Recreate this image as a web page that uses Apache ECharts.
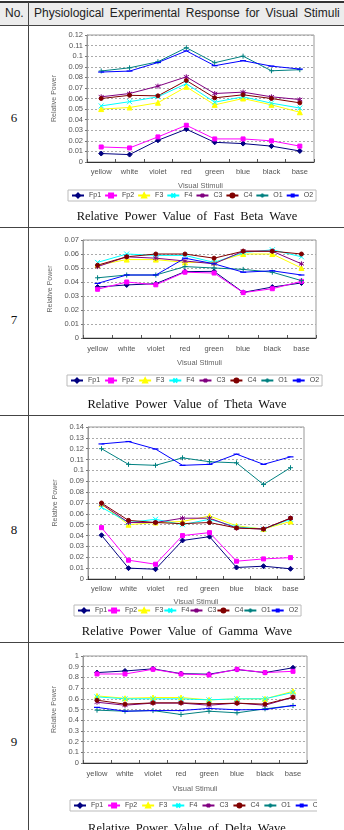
<!DOCTYPE html>
<html>
<head>
<meta charset="utf-8">
<script src="https://cdn.jsdelivr.net/npm/echarts@6/dist/echarts.min.js"></script>
<style>
    body {
        width: 344px;
        height: 830px;
        margin: 0;
        position: relative;
        overflow: hidden;
        background: #fff;
        font-family: 'Liberation Sans', Arial, sans-serif;
        color: #222;
    }
    .line { position: absolute; background: #444; }
    .header-bg { position: absolute; left: 0; top: 2px; width: 344px; height: 23px; background: #ececec; }
    .head { position: absolute; top: 6px; font-size: 12px; line-height: 15px; color: #222; white-space: nowrap; }
    .rownum { position: absolute; left: 0; width: 28px; text-align: center; font-family: 'Liberation Serif', 'DejaVu Serif', serif; font-size: 13px; color: #111; }
    .clip { position: absolute; left: 30px; overflow: hidden; }
    .chart { width: 314px; }
    .caption {
        position: absolute; left: 30px; width: 314px; text-align: center; white-space: nowrap;
        font-family: 'Liberation Serif', 'DejaVu Serif', serif; font-size: 12.5px; word-spacing: 3px; color: #111;
    }
</style>
</head>
<body>
<div class="header-bg"></div>
<div class="line" style="left:0;top:1px;width:344px;height:2px;background:#333"></div>
<div class="line" style="left:0;top:25px;width:344px;height:1px"></div>
<div class="line" style="left:28px;top:2px;width:1px;height:830px"></div>
<div class="line" style="left:0;top:227px;width:344px;height:1px"></div>
<div class="line" style="left:0;top:415px;width:344px;height:1px"></div>
<div class="line" style="left:0;top:642px;width:344px;height:1px"></div>

<div class="head" style="left:5px">No.</div>
<div class="head" style="left:34px;word-spacing:2.5px">Physiological Experimental Response for Visual Stimuli</div>

<div class="rownum" style="top:110px">6</div>
<div class="rownum" style="top:312px">7</div>
<div class="rownum" style="top:522px">8</div>
<div class="rownum" style="top:734px">9</div>

<div class="clip" style="top:26px;width:314px;height:200px"><div id="c1" class="chart" style="height:200px"></div></div>
<div class="clip" style="top:228px;width:314px;height:187px"><div id="c2" class="chart" style="height:187px"></div></div>
<div class="clip" style="top:416px;width:277px;height:226px"><div id="c3" class="chart" style="height:226px"></div></div>
<div class="clip" style="top:643px;width:287px;height:187px"><div id="c4" class="chart" style="height:187px"></div></div>

<div class="caption" style="top:209px">Relative Power Value of Fast Beta Wave</div>
<div class="caption" style="top:397px">Relative Power Value of Theta Wave</div>
<div class="caption" style="top:624px">Relative Power Value of Gamma Wave</div>
<div class="caption" style="top:821px">Relative Power Value of Delta Wave</div>

<script type="text/javascript">
// visual stimuli on the x axis
var stimuli = ['yellow', 'white', 'violet', 'red', 'green', 'blue', 'black', 'base'];
// electrode channels, one line each
var channels = ['Fp1', 'Fp2', 'F3', 'F4', 'C3', 'C4', 'O1', 'O2'];
var colors = ['#000080', '#ff00ff', '#ffff00', '#00ffff', '#800080', '#800000', '#008080', '#0000ff'];

// values per channel (same order as channels)
var fastBeta = [
    [0.008, 0.007, 0.0205, 0.031, 0.0186, 0.0174, 0.015, 0.0104],
    [0.0142, 0.0133, 0.0237, 0.0347, 0.0218, 0.0218, 0.020, 0.015],
    [0.050, 0.0515, 0.056, 0.071, 0.054, 0.060, 0.054, 0.047],
    [0.053, 0.057, 0.0616, 0.074, 0.0565, 0.0616, 0.0556, 0.051],
    [0.0616, 0.0647, 0.0717, 0.0805, 0.0647, 0.066, 0.0616, 0.059],
    [0.060, 0.063, 0.0625, 0.077, 0.0606, 0.0635, 0.060, 0.0559],
    [0.086, 0.089, 0.0947, 0.108, 0.0938, 0.100, 0.0862, 0.0872],
    [0.085, 0.0859, 0.094, 0.105, 0.091, 0.0957, 0.0906, 0.0878]
];
var theta = [
    [0.0364, 0.0379, 0.0388, 0.0474, 0.0476, 0.0326, 0.0364, 0.0393],
    [0.0348, 0.0400, 0.0380, 0.0470, 0.0464, 0.0324, 0.0352, 0.0405],
    [0.052, 0.056, 0.056, 0.054, 0.054, 0.060, 0.060, 0.050],
    [0.054, 0.060, 0.059, 0.059, 0.054, 0.061, 0.063, 0.058],
    [0.051, 0.058, 0.057, 0.055, 0.053, 0.062, 0.062, 0.053],
    [0.052, 0.058, 0.060, 0.060, 0.057, 0.062, 0.062, 0.060],
    [0.043, 0.045, 0.045, 0.051, 0.050, 0.049, 0.047, 0.041],
    [0.039, 0.045, 0.045, 0.057, 0.053, 0.047, 0.048, 0.045]
];
var gamma = [
    [0.0403, 0.010, 0.009, 0.0355, 0.039, 0.0106, 0.0118, 0.0094],
    [0.0473, 0.0173, 0.0136, 0.040, 0.0427, 0.0164, 0.0185, 0.0197],
    [0.069, 0.050, 0.052, 0.053, 0.058, 0.049, 0.046, 0.053],
    [0.066, 0.052, 0.055, 0.050, 0.055, 0.048, 0.046, 0.055],
    [0.069, 0.052, 0.052, 0.056, 0.056, 0.047, 0.046, 0.056],
    [0.070, 0.054, 0.052, 0.051, 0.052, 0.047, 0.046, 0.056],
    [0.120, 0.1056, 0.1047, 0.1116, 0.108, 0.107, 0.087, 0.1025],
    [0.1244, 0.1266, 0.1197, 0.1047, 0.1056, 0.115, 0.1056, 0.1125]
];
var delta = [
    [0.845, 0.86, 0.88, 0.835, 0.83, 0.873, 0.845, 0.89],
    [0.832, 0.832, 0.876, 0.832, 0.823, 0.876, 0.845, 0.857],
    [0.627, 0.605, 0.612, 0.612, 0.59, 0.60, 0.60, 0.67],
    [0.618, 0.60, 0.60, 0.60, 0.59, 0.60, 0.60, 0.66],
    [0.568, 0.54, 0.56, 0.56, 0.54, 0.56, 0.54, 0.615],
    [0.587, 0.55, 0.562, 0.562, 0.553, 0.559, 0.55, 0.615],
    [0.494, 0.484, 0.49, 0.453, 0.484, 0.469, 0.506, 0.537],
    [0.52, 0.484, 0.49, 0.49, 0.51, 0.497, 0.50, 0.537]
];

// excel-ish markers (paths need a non-flat bounding box)
var symbols = [
    'diamond', 'rect', 'triangle',
    'path://M0,0L10,10M10,0L0,10',
    'path://M5,0L5,10M0,2L10,8M10,2L0,8',
    'circle',
    'path://M5,0L5,10M0,5L10,5',
    'path://M0,4L10,4L10,6L0,6Z'
];
var symbolSizes = [5, 4, 5, 5, 5, 4, 5, [6, 1.2]];

function buildChart(id, values, yMax, yStep, layout) {
    var chart = echarts.init(document.getElementById(id));
    var series = channels.map(function (name, i) {
        return {
            name: name,
            type: 'line',
            data: values[i],
            symbol: symbols[i],
            symbolSize: symbolSizes[i],
            showSymbol: true,
            lineStyle: { color: colors[i], width: 1 },
            itemStyle: { color: colors[i], borderColor: colors[i], borderWidth: i === 7 ? 0 : 1 },
            emphasis: { disabled: true },
            animation: false
        };
    });
    chart.setOption({
        animation: false,
        textStyle: { fontFamily: "'Liberation Sans', Arial, sans-serif" },
        grid: {
            left: layout.left, top: layout.top, width: layout.width, height: layout.height,
            show: true, borderColor: '#999', borderWidth: 1
        },
        legend: {
            left: layout.legendLeft, top: layout.legendTop,
            data: channels,
            itemWidth: 12, itemHeight: 5, itemGap: layout.legendGap,
            padding: [2, 3],
            borderColor: '#bbb', borderWidth: 1,
            textStyle: { fontSize: 7, color: '#444' }
        },
        xAxis: {
            type: 'category',
            data: stimuli,
            boundaryGap: true,
            name: 'Visual Stimuli',
            nameLocation: 'middle',
            nameGap: layout.xNameGap,
            nameTextStyle: { fontSize: 7.5, color: '#666' },
            axisLine: { lineStyle: { color: '#333', width: 1 } },
            axisTick: { show: true, inside: true, length: 3, lineStyle: { color: '#555' } },
            axisLabel: { fontSize: 7.5, color: '#555', margin: layout.labelMargin, interval: 0 }
        },
        yAxis: {
            type: 'value',
            min: 0, max: yMax, interval: yStep,
            name: 'Relative Power',
            nameLocation: 'middle',
            nameGap: layout.yNameGap,
            nameTextStyle: { fontSize: 7, color: '#666' },
            axisLine: { show: true, lineStyle: { color: '#999' } },
            axisTick: { show: true, length: 2, lineStyle: { color: '#777' } },
            axisLabel: {
                fontSize: 7.5, color: '#555', margin: 4,
                formatter: function (v) { return String(+v.toFixed(2)); }
            },
            splitLine: { lineStyle: { color: '#aaa', type: [2, 2], width: 1 } }
        },
        series: series
    });
}

buildChart('c1', fastBeta, 0.12, 0.01, {
    left: 57, top: 9, width: 227, height: 127,
    legendLeft: 38, legendTop: 164, legendGap: 3, xNameGap: 20, labelMargin: 6, yNameGap: 26
});
buildChart('c2', theta, 0.07, 0.01, {
    left: 53, top: 12, width: 233, height: 98,
    legendLeft: 37, legendTop: 147, legendGap: 4, xNameGap: 21, labelMargin: 7, yNameGap: 26
});
buildChart('c3', gamma, 0.14, 0.01, {
    left: 58, top: 11, width: 216, height: 152,
    legendLeft: 44, legendTop: 189, legendGap: 0, xNameGap: 18, labelMargin: 6, yNameGap: 22
});
buildChart('c4', delta, 1, 0.1, {
    left: 53, top: 13, width: 224, height: 107,
    legendLeft: 40, legendTop: 157, legendGap: 4, xNameGap: 22, labelMargin: 7, yNameGap: 22
});
</script>
</body>
</html>
